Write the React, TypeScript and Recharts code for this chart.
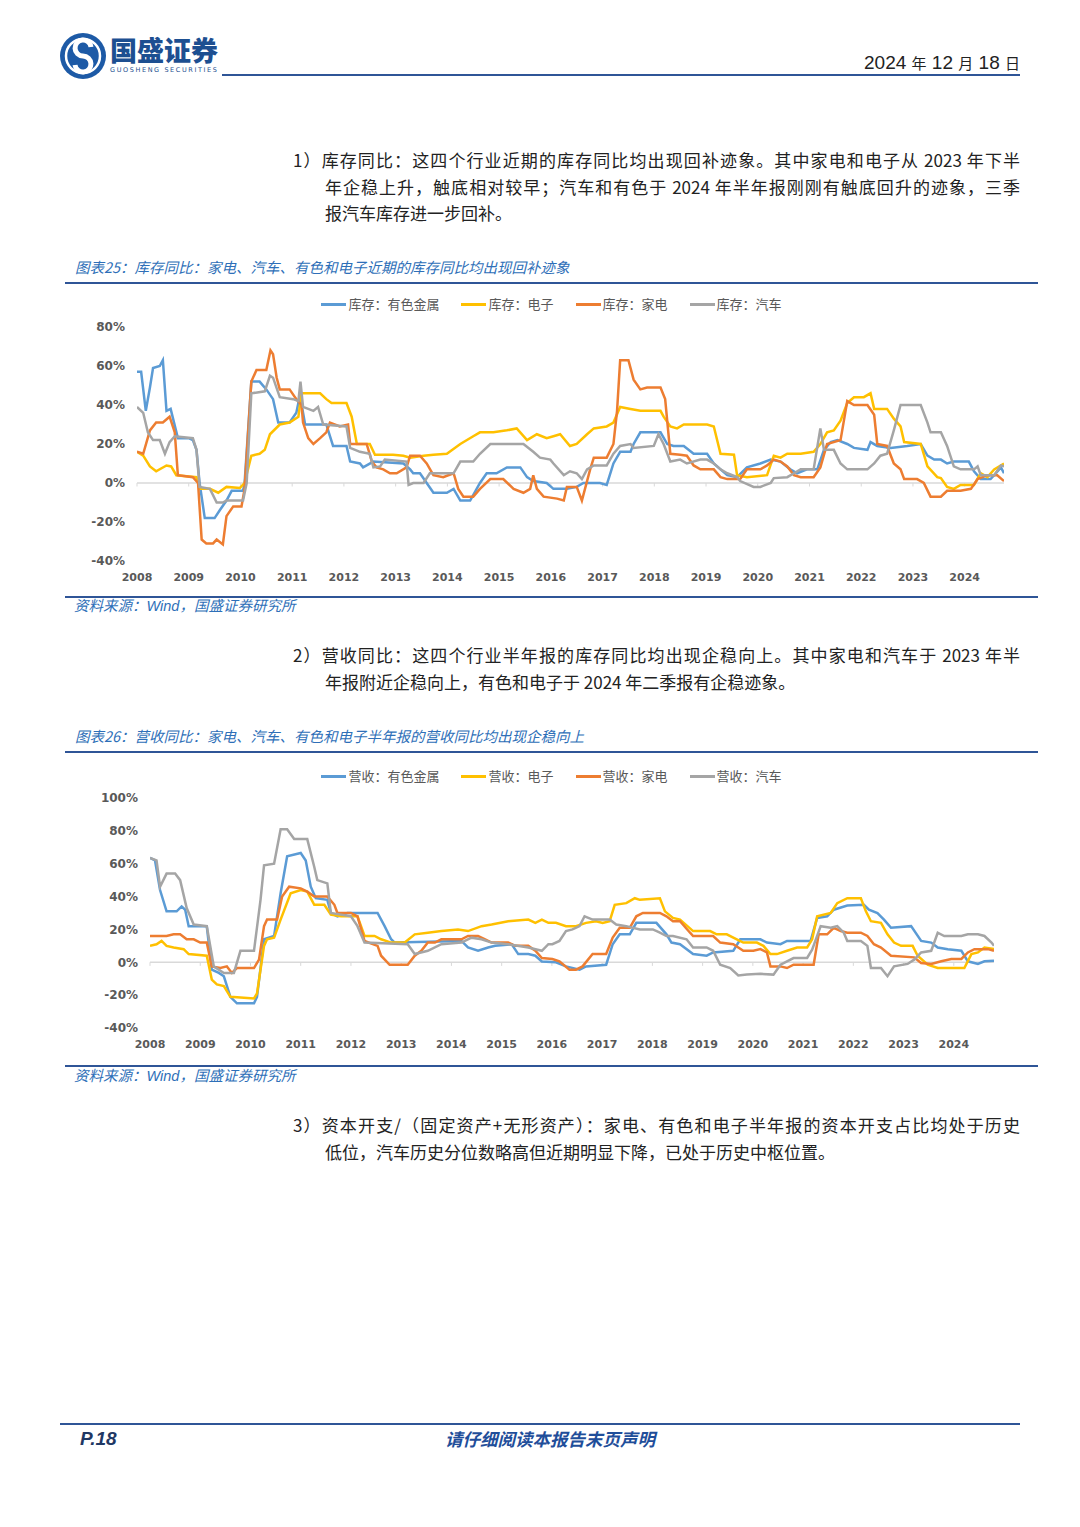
import React from "react"
import { LineChart, Line, XAxis, YAxis, ReferenceLine } from "recharts"

// 年份刻度
const years = [2008, 2009, 2010, 2011, 2012, 2013, 2014, 2015, 2016, 2017, 2018, 2019, 2020, 2021, 2022, 2023, 2024]

// 图表25 库存同比（%），[时间(年), 同比]
const invMetal: [number, number][] = [
  [2008.0, 57], [2008.08, 57], [2008.17, 37], [2008.25, 49], [2008.31, 59], [2008.44, 60], [2008.5, 63],
  [2008.57, 37], [2008.65, 38], [2008.79, 23], [2009.0, 23], [2009.08, 22], [2009.15, 17], [2009.21, 0],
  [2009.31, -18], [2009.5, -18], [2009.6, -14], [2009.73, -9], [2009.83, -4], [2010.05, -4], [2010.08, 0],
  [2010.21, 52], [2010.37, 52], [2010.5, 48], [2010.63, 43], [2010.73, 31], [2010.95, 31], [2011.08, 36],
  [2011.15, 45], [2011.25, 30], [2011.66, 30], [2011.73, 24], [2011.79, 19], [2012.05, 19], [2012.12, 11],
  [2012.31, 10], [2012.37, 8], [2012.57, 11], [2013.15, 10], [2013.28, 7], [2013.34, 5], [2013.47, 5],
  [2013.6, 0], [2013.73, -5], [2013.99, -5], [2014.12, -3], [2014.25, -9], [2014.44, -9], [2014.63, 0],
  [2014.76, 5], [2014.95, 5], [2015.15, 8], [2015.41, 8], [2015.54, 3], [2015.66, 1], [2015.92, 0],
  [2016.05, -3], [2016.31, -3], [2016.5, -2], [2016.63, 0], [2016.95, 0], [2017.08, -1], [2017.21, 10],
  [2017.34, 16], [2017.54, 16], [2017.6, 20], [2017.73, 26], [2018.12, 26], [2018.25, 20], [2018.37, 19],
  [2018.57, 19], [2018.76, 15], [2019.02, 15], [2019.15, 10], [2019.28, 7], [2019.41, 4], [2019.6, 3],
  [2019.79, 8], [2020.05, 10], [2020.25, 12], [2020.44, 11], [2020.63, 7], [2020.76, 5], [2020.95, 7],
  [2021.15, 7], [2021.28, 17], [2021.41, 21], [2021.54, 22], [2021.73, 20], [2021.86, 18], [2022.12, 17],
  [2022.18, 21], [2022.31, 19], [2022.57, 18], [2022.89, 19], [2023.15, 20], [2023.28, 14], [2023.41, 12],
  [2023.54, 12], [2023.66, 10], [2023.79, 11], [2024.08, 11], [2024.18, 6], [2024.31, 2], [2024.5, 2],
  [2024.57, 4], [2024.7, 8], [2024.76, 5],
]
const invElec: [number, number][] = [
  [2008.0, 16], [2008.12, 14], [2008.25, 8.5], [2008.37, 6], [2008.57, 9], [2008.66, 8.5], [2008.76, 4],
  [2009.15, 3], [2009.21, -3], [2009.41, -3], [2009.57, -5], [2009.73, -2], [2009.99, -2.5], [2010.08, 0],
  [2010.21, 14], [2010.37, 15], [2010.47, 17], [2010.57, 25], [2010.76, 30], [2010.95, 31], [2011.12, 34],
  [2011.18, 46], [2011.54, 46], [2011.66, 43], [2011.76, 41], [2012.05, 41], [2012.15, 34], [2012.25, 20],
  [2012.5, 20], [2012.6, 14.5], [2012.95, 14.5], [2013.15, 14], [2013.28, 13], [2013.54, 14], [2013.73, 14.5],
  [2013.99, 15], [2014.25, 20], [2014.5, 24], [2014.63, 26], [2014.89, 26], [2015.15, 27], [2015.34, 28],
  [2015.54, 22], [2015.73, 25], [2015.92, 23], [2016.05, 24], [2016.18, 25], [2016.37, 19], [2016.5, 20],
  [2016.7, 25], [2016.83, 28], [2017.08, 29], [2017.21, 31], [2017.34, 39], [2017.54, 38], [2017.73, 37],
  [2018.12, 37], [2018.18, 34], [2018.31, 29], [2018.44, 28], [2018.57, 30], [2019.02, 30], [2019.15, 29],
  [2019.28, 15], [2019.54, 14.5], [2019.6, 4], [2019.79, 3], [2020.18, 4], [2020.31, 14], [2020.44, 13],
  [2020.57, 15], [2020.83, 15], [2021.08, 16], [2021.21, 20], [2021.34, 26], [2021.47, 27], [2021.6, 32],
  [2021.73, 41], [2021.86, 44], [2022.05, 44], [2022.18, 46], [2022.25, 38], [2022.5, 38], [2022.63, 33],
  [2022.76, 29], [2022.83, 21], [2023.15, 20], [2023.28, 8.5], [2023.47, 3], [2023.54, 2.5], [2023.66, -2],
  [2023.79, -3], [2023.92, -1], [2024.18, -1], [2024.31, 5], [2024.44, 3], [2024.57, 7], [2024.76, 10],
]
const invAppl: [number, number][] = [
  [2008.0, 16], [2008.12, 15], [2008.25, 27], [2008.37, 31], [2008.5, 31], [2008.63, 34], [2008.73, 26],
  [2008.79, 4], [2009.08, 3], [2009.18, 0], [2009.25, -29], [2009.34, -31], [2009.47, -31], [2009.54, -29],
  [2009.66, -31.5], [2009.73, -17], [2009.86, -12], [2010.02, -12], [2010.08, -3], [2010.21, 52], [2010.31, 58],
  [2010.5, 58], [2010.58, 68], [2010.63, 66], [2010.7, 54], [2010.76, 48], [2010.95, 48], [2011.08, 43],
  [2011.18, 40], [2011.21, 31], [2011.31, 23], [2011.41, 20], [2011.54, 23], [2011.66, 26], [2011.73, 31],
  [2011.92, 29], [2012.08, 30], [2012.12, 20], [2012.44, 20], [2012.54, 11], [2012.63, 8], [2012.76, 7],
  [2012.89, 5], [2013.02, 5], [2013.21, 8], [2013.28, 14], [2013.47, 14], [2013.6, 10], [2013.73, 4],
  [2013.92, 3], [2014.12, 5], [2014.21, -3], [2014.31, -7], [2014.5, -7], [2014.63, -3], [2014.83, 2],
  [2015.08, 2], [2015.28, -3], [2015.47, -5], [2015.6, -3], [2015.66, 4], [2015.73, -3], [2015.86, -7],
  [2016.12, -8], [2016.25, -9], [2016.31, -2], [2016.5, -2], [2016.6, -9], [2016.76, 7], [2016.83, 13],
  [2017.08, 13], [2017.21, 20], [2017.28, 37], [2017.34, 63], [2017.5, 63], [2017.6, 53], [2017.73, 48],
  [2017.86, 49], [2018.12, 49], [2018.21, 43], [2018.31, 15], [2018.5, 14.5], [2018.63, 14], [2018.76, 9],
  [2018.89, 7], [2019.15, 7], [2019.28, 3], [2019.41, 2], [2019.66, 2], [2019.79, 7], [2020.05, 7],
  [2020.18, 9], [2020.31, 12], [2020.44, 11], [2020.57, 8.5], [2020.7, 4], [2020.83, 3], [2021.08, 3],
  [2021.21, 8], [2021.34, 20], [2021.6, 22], [2021.73, 42], [2021.86, 40], [2022.12, 40], [2022.25, 35],
  [2022.31, 20], [2022.5, 19], [2022.63, 10], [2022.76, 7], [2022.83, 2], [2023.08, 2], [2023.21, 0],
  [2023.34, -7], [2023.54, -7], [2023.66, -4], [2023.92, -4], [2024.12, -3], [2024.25, 2], [2024.44, 4],
  [2024.63, 4], [2024.76, 1],
]
const invAuto: [number, number][] = [
  [2008.0, 39], [2008.12, 36], [2008.21, 26], [2008.31, 22], [2008.44, 22], [2008.54, 15], [2008.63, 21],
  [2008.73, 24], [2009.08, 23], [2009.15, 17], [2009.21, -2], [2009.41, -3], [2009.54, -10], [2009.66, -10],
  [2009.73, -9], [2010.05, -9], [2010.12, 0], [2010.21, 46], [2010.47, 47], [2010.57, 55], [2010.63, 54],
  [2010.76, 44], [2011.02, 43], [2011.12, 42], [2011.16, 52], [2011.21, 39], [2011.41, 37], [2011.5, 39],
  [2011.6, 30], [2012.05, 29], [2012.12, 18], [2012.31, 16], [2012.5, 15], [2012.57, 8], [2012.7, 8.5],
  [2012.79, 12], [2013.21, 11], [2013.25, -1], [2013.34, 0], [2013.54, 0], [2013.66, 5], [2014.12, 5],
  [2014.25, 11], [2014.5, 11], [2014.63, 15], [2014.83, 20], [2015.47, 20], [2015.66, 16], [2015.79, 13],
  [2015.99, 12], [2016.05, 10], [2016.25, 4], [2016.37, 6], [2016.5, 5], [2016.6, 2], [2016.7, 7],
  [2016.83, 9], [2017.08, 9], [2017.21, 15], [2017.34, 19], [2017.54, 20], [2017.6, 18], [2017.99, 19],
  [2018.08, 25], [2018.18, 20], [2018.31, 11], [2018.5, 12], [2018.63, 10], [2018.89, 12], [2019.02, 12],
  [2019.15, 10], [2019.28, 7], [2019.41, 5], [2019.6, 3], [2019.66, 1], [2019.92, -2], [2020.05, -2],
  [2020.25, 0], [2020.31, 2.5], [2020.57, 3], [2020.7, 5], [2020.83, 7], [2021.08, 7], [2021.21, 28],
  [2021.28, 17], [2021.47, 17], [2021.6, 10], [2021.73, 7], [2022.12, 7], [2022.25, 10], [2022.37, 14],
  [2022.5, 15], [2022.63, 27], [2022.76, 40], [2023.15, 40], [2023.28, 31], [2023.34, 26], [2023.54, 26],
  [2023.66, 19], [2023.79, 8.5], [2023.92, 7], [2024.18, 7], [2024.25, 8.5], [2024.31, 4], [2024.57, 4],
  [2024.7, 9], [2024.76, 8.5],
]

// 图表26 营收同比（%），[时间(年), 同比]
const revMetal: [number, number][] = [
  [2008.0, 63.5], [2008.1, 62], [2008.2, 44], [2008.33, 31], [2008.53, 31], [2008.63, 34], [2008.7, 32],
  [2008.77, 22], [2009.13, 22], [2009.23, -4.5], [2009.37, -6.5], [2009.47, -8.5], [2009.6, -21], [2009.73, -25],
  [2010.07, -25], [2010.13, -21], [2010.27, 14], [2010.47, 16], [2010.6, 42], [2010.73, 64.5], [2011.0, 66.5],
  [2011.1, 62], [2011.2, 46], [2011.3, 39], [2011.53, 38], [2011.6, 30], [2011.73, 28], [2011.93, 30],
  [2012.53, 30], [2012.67, 22], [2012.8, 14], [2012.87, 12], [2014.2, 13], [2014.33, 9], [2014.53, 7],
  [2014.73, 9], [2014.87, 10], [2015.2, 11], [2015.33, 5], [2015.53, 5], [2015.67, 4], [2015.8, 0.5],
  [2016.08, 0], [2016.28, -2.5], [2016.55, -4.5], [2016.68, -2.5], [2017.08, -1.5], [2017.21, 11], [2017.35, 17],
  [2017.55, 17], [2017.68, 24], [2018.08, 24], [2018.28, 17], [2018.38, 12], [2018.55, 11], [2018.81, 5],
  [2019.08, 4], [2019.21, 6], [2019.61, 7], [2019.75, 14], [2020.15, 14], [2020.28, 12], [2020.55, 11],
  [2020.68, 13], [2021.15, 13], [2021.28, 27], [2021.48, 28], [2021.61, 32], [2021.88, 34.5], [2022.21, 35],
  [2022.31, 32], [2022.48, 30], [2022.61, 26], [2022.75, 21], [2023.15, 22], [2023.35, 13], [2023.55, 12],
  [2023.68, 9], [2023.88, 8], [2024.15, 7], [2024.28, 0.6], [2024.48, -1], [2024.61, 0.6], [2024.8, 1],
]
const revElec: [number, number][] = [
  [2008.0, 10], [2008.13, 11], [2008.23, 13], [2008.33, 10], [2008.47, 9], [2008.67, 8], [2008.77, 5],
  [2009.13, 4], [2009.23, -10.5], [2009.33, -13.5], [2009.47, -14.5], [2009.6, -21], [2010.07, -22], [2010.13, -19],
  [2010.27, 10], [2010.33, 14], [2010.47, 15], [2010.6, 26], [2010.8, 42], [2011.0, 44], [2011.13, 43],
  [2011.27, 35], [2011.47, 35], [2011.6, 29], [2011.8, 28], [2012.13, 28], [2012.27, 16], [2012.47, 16],
  [2012.6, 14], [2012.8, 12], [2013.07, 12], [2013.27, 17], [2013.53, 18], [2013.8, 19], [2014.13, 20],
  [2014.33, 19], [2014.6, 22], [2014.8, 23], [2015.13, 25], [2015.53, 26], [2015.67, 24], [2015.8, 26],
  [2015.93, 24], [2016.08, 24], [2016.28, 22], [2016.48, 22], [2016.68, 24], [2016.88, 25], [2017.01, 24],
  [2017.15, 25], [2017.25, 35], [2017.48, 36], [2017.65, 39], [2017.75, 38], [2018.15, 39], [2018.25, 31],
  [2018.41, 27], [2018.55, 26], [2018.81, 19], [2019.15, 19], [2019.28, 17], [2019.48, 17], [2019.68, 14],
  [2019.81, 12], [2020.08, 12], [2020.21, 10], [2020.35, 5], [2020.48, 5], [2020.68, 7], [2020.88, 9],
  [2021.08, 9], [2021.18, 14], [2021.28, 28], [2021.55, 30], [2021.68, 36], [2021.88, 39], [2022.15, 39],
  [2022.25, 31], [2022.35, 25], [2022.55, 24], [2022.68, 17], [2022.81, 12], [2022.95, 10], [2023.18, 10],
  [2023.28, 4], [2023.48, -1.5], [2023.68, -3.5], [2024.21, -3.5], [2024.35, 5], [2024.48, 6], [2024.61, 9],
  [2024.8, 8],
]
const revAppl: [number, number][] = [
  [2008.0, 16], [2008.33, 16], [2008.47, 17], [2008.6, 17], [2008.73, 14], [2008.87, 14], [2009.0, 12],
  [2009.13, 12], [2009.23, -2.5], [2009.4, -3.5], [2009.53, -2.5], [2009.63, -6.5], [2009.73, -3.5], [2010.07, -3.5],
  [2010.17, 1.6], [2010.27, 22], [2010.33, 26], [2010.53, 26], [2010.63, 40], [2010.77, 46], [2011.0, 45],
  [2011.13, 43], [2011.27, 40], [2011.53, 40], [2011.67, 35], [2011.73, 30], [2012.0, 30], [2012.13, 28],
  [2012.27, 13], [2012.53, 10], [2012.6, 4], [2012.77, -1.5], [2013.13, -1.5], [2013.27, 4], [2013.4, 7],
  [2013.53, 12], [2013.67, 12], [2013.8, 14], [2014.2, 14], [2014.33, 16], [2014.53, 16], [2014.67, 14],
  [2014.8, 12], [2015.13, 12], [2015.27, 10], [2015.53, 10], [2015.67, 7], [2015.8, 2.6], [2016.01, 2],
  [2016.15, 0.6], [2016.35, -4.5], [2016.48, -4.5], [2016.61, -2.5], [2016.81, 5], [2017.08, 5], [2017.21, 15],
  [2017.35, 21], [2017.55, 21], [2017.68, 28], [2017.81, 30], [2018.15, 30], [2018.28, 28], [2018.41, 25],
  [2018.55, 25], [2018.75, 18], [2018.81, 16], [2019.21, 16], [2019.35, 12], [2019.61, 11], [2019.81, 7],
  [2020.01, 7], [2020.15, 8], [2020.28, 6], [2020.35, -2.5], [2020.55, -2.5], [2020.68, -3.5], [2020.81, -1.5],
  [2021.21, -1.5], [2021.31, 17], [2021.48, 17], [2021.61, 21], [2021.75, 19], [2021.88, 18], [2022.15, 18],
  [2022.28, 16], [2022.41, 11], [2022.55, 9], [2022.75, 4], [2023.21, 3], [2023.35, -0.4], [2023.55, -1],
  [2023.75, 0.6], [2023.95, 2], [2024.15, 2], [2024.28, 6], [2024.41, 8], [2024.68, 8], [2024.8, 7],
]
const revAuto: [number, number][] = [
  [2008.0, 63.5], [2008.13, 62], [2008.2, 46], [2008.33, 54], [2008.5, 54], [2008.6, 50], [2008.73, 33],
  [2008.87, 23], [2009.13, 22], [2009.27, -2.5], [2009.47, -6.5], [2009.67, -6.5], [2009.8, 7], [2010.07, 7],
  [2010.2, 38], [2010.27, 59], [2010.47, 60], [2010.6, 81], [2010.73, 81], [2010.87, 75], [2011.13, 75],
  [2011.27, 58], [2011.33, 50], [2011.53, 48], [2011.6, 30], [2012.0, 28], [2012.13, 22], [2012.27, 12],
  [2013.13, 11], [2013.27, 5], [2013.53, 7], [2013.8, 11], [2014.2, 12], [2014.4, 15], [2014.6, 14],
  [2014.8, 12], [2015.13, 11], [2015.53, 9], [2015.8, 7], [2015.93, 11], [2016.01, 11], [2016.15, 13],
  [2016.28, 19], [2016.41, 20], [2016.55, 22], [2016.65, 28], [2016.81, 26], [2017.15, 26], [2017.28, 23],
  [2017.48, 22], [2017.75, 20], [2018.01, 20], [2018.15, 18], [2018.28, 16], [2018.41, 16], [2018.68, 14],
  [2018.81, 9], [2019.08, 9], [2019.21, 7], [2019.35, -1.5], [2019.55, -3.5], [2019.71, -8], [2019.88, -7.5],
  [2020.15, -7], [2020.41, -7.5], [2020.55, -1.5], [2020.68, 0.6], [2020.81, 2.6], [2021.08, 2.6], [2021.18, 7.7],
  [2021.35, 22], [2021.55, 21], [2021.68, 22], [2021.81, 18], [2021.88, 13], [2022.15, 13], [2022.28, 10],
  [2022.35, -3.5], [2022.55, -3.5], [2022.68, -8.5], [2022.81, -2.5], [2023.08, -1], [2023.21, 1.6], [2023.35, 6],
  [2023.55, 7], [2023.68, 18], [2023.81, 16], [2024.15, 16], [2024.28, 17], [2024.48, 17], [2024.61, 16],
  [2024.75, 12], [2024.8, 10],
]

const invTicks = [-40, -20, 0, 20, 40, 60, 80]
const revTicks = [-40, -20, 0, 20, 40, 60, 80, 100]

const seriesKeys = ["metal", "elec", "appl", "auto"] as const
type Key = (typeof seriesKeys)[number]
const seriesNames: Record<Key, string> = { metal: "有色金属", elec: "电子", appl: "家电", auto: "汽车" }
const COLORS: Record<Key, string> = { metal: "#5b9bd5", elec: "#ffc000", appl: "#ed7d31", auto: "#a5a5a5" }

const toRows = (pts: [number, number][]) => pts.map(([t, v]) => ({ t, v }))

const invSeries: Record<Key, { t: number; v: number }[]> = {
  metal: toRows(invMetal),
  elec: toRows(invElec),
  appl: toRows(invAppl),
  auto: toRows(invAuto),
}
const revSeries: Record<Key, { t: number; v: number }[]> = {
  metal: toRows(revMetal),
  elec: toRows(revElec),
  appl: toRows(revAppl),
  auto: toRows(revAuto),
}

const BLUE_TEXT = "#2e6fb8"
const RULE = "#2f5597"
const CJK = '"Noto Sans CJK SC", "Noto Sans", sans-serif'
const xTickStyle = { fill: "#595959", fontSize: 11, fontWeight: 700, fontFamily: '"DejaVu Sans", sans-serif' }
const yTickStyle = { ...xTickStyle, fontSize: 12 }

function ChartLegend({ prefix, top }: { prefix: string; top: number }) {
  return (
    <div
      style={{
        position: "absolute",
        top,
        left: 0,
        width: 1103,
        display: "flex",
        justifyContent: "center",
        gap: 22,
        fontFamily: CJK,
        fontSize: 13,
        color: "#595959",
        lineHeight: "16px",
      }}
    >
      {seriesKeys.map((k) => (
        <span key={k} style={{ display: "flex", alignItems: "center", gap: 2 }}>
          <span style={{ width: 25, height: 3, background: COLORS[k], display: "inline-block" }} />
          {prefix}：{seriesNames[k]}
        </span>
      ))}
    </div>
  )
}

type ChartProps = {
  series: Record<Key, { t: number; v: number }[]>
  top: number
  ticks: number[]
  xEnd: number
  zeroTick: number
  margin: { top: number; right: number; bottom: number; left: number }
}

function YoyChart({ series, top, ticks, xEnd, zeroTick, margin }: ChartProps) {
  return (
    <div style={{ position: "absolute", left: 0, top }}>
      <LineChart width={1040} height={300} margin={margin}>
        <XAxis
          type="number"
          dataKey="t"
          domain={[2008, xEnd]}
          ticks={years}
          allowDataOverflow
          axisLine={false}
          tickLine={false}
          tickSize={6}
          tickMargin={6}
          height={30}
          tick={xTickStyle}
          interval={0}
        />
        <YAxis
          dataKey="v"
          domain={[ticks[0], ticks[ticks.length - 1]]}
          ticks={ticks}
          width={60}
          axisLine={false}
          tickLine={false}
          tickSize={6}
          tickMargin={6}
          tick={yTickStyle}
          tickFormatter={(v) => `${v}%`}
          interval={0}
        />
        <ReferenceLine y={0} stroke="#d9d9d9" strokeWidth={1.5} />
        {years.map((yr) => (
          <ReferenceLine
            key={yr}
            segment={[
              { x: yr, y: 0 },
              { x: yr, y: zeroTick },
            ]}
            stroke="#d9d9d9"
            strokeWidth={1}
          />
        ))}
        {seriesKeys.map((k) => (
          <Line
            key={k}
            data={series[k]}
            type="linear"
            dataKey="v"
            name={seriesNames[k]}
            stroke={COLORS[k]}
            strokeWidth={2.5}
            dot={false}
            isAnimationActive={false}
          />
        ))}
      </LineChart>
    </div>
  )
}

function Para({ lines, top, first }: { lines: string[]; top: number; first: number }) {
  return (
    <>
      {lines.map((line, i) => {
        const left = i === 0 ? first : 325
        const justify = i < lines.length - 1
        return (
          <div
            key={i}
            style={{
              position: "absolute",
              top: top + i * 26.5 - 13,
              left,
              width: 1020 - left,
              height: 26,
              lineHeight: "26px",
              fontFamily: CJK,
              fontSize: 17,
              color: "#222",
              whiteSpace: "nowrap",
              textAlign: justify ? "justify" : "left",
              textAlignLast: justify ? "justify" : "left",
            }}
          >
            {line}
          </div>
        )
      })}
    </>
  )
}

function FigTitle({ text, top }: { text: string; top: number }) {
  return (
    <div
      style={{
        position: "absolute",
        top: top - 10,
        left: 75,
        fontFamily: CJK,
        fontStyle: "italic",
        fontSize: 14.5,
        lineHeight: "20px",
        color: BLUE_TEXT,
        whiteSpace: "nowrap",
      }}
    >
      {text}
    </div>
  )
}

function Rule({ top, left, width }: { top: number; left: number; width: number }) {
  return <div style={{ position: "absolute", top, left, width, height: 2, background: RULE }} />
}

function Source({ top }: { top: number }) {
  return (
    <div
      style={{
        position: "absolute",
        top: top - 10,
        left: 74,
        fontFamily: CJK,
        fontStyle: "italic",
        fontSize: 14.5,
        lineHeight: "20px",
        color: BLUE_TEXT,
        whiteSpace: "nowrap",
      }}
    >
      资料来源：<span style={{ fontFamily: '"Liberation Sans", sans-serif' }}>Wind</span>，国盛证券研究所
    </div>
  )
}

export default function App() {
  return (
    <div
      style={{
        position: "absolute",
        left: 0,
        top: 0,
        width: 1080,
        height: 1527,
        background: "#fff",
        overflow: "hidden",
        fontFamily: CJK,
      }}
    >
      {/* header */}
      <svg style={{ position: "absolute", left: 58, top: 32 }} width={50} height={50}>
        <circle cx={25} cy={24} r={23} fill="#1d5aa6" />
        <circle cx={25} cy={24} r={17} fill="none" stroke="#fff" strokeWidth={2.5} />
        <path d="M33 15 A8 8 0 1 0 25 24 A8 8 0 1 1 17 33" fill="none" stroke="#fff" strokeWidth={5} />
      </svg>
      <div
        style={{
          position: "absolute",
          left: 110,
          top: 34,
          fontSize: 27,
          fontWeight: 900,
          lineHeight: "32px",
          color: "#1d4f91",
        }}
      >
        国盛证券
      </div>
      <div
        style={{
          position: "absolute",
          left: 110,
          top: 66,
          fontSize: 6.5,
          lineHeight: "8px",
          color: "#1d4f91",
          letterSpacing: 1.6,
          fontFamily: '"DejaVu Sans", sans-serif',
          whiteSpace: "nowrap",
        }}
      >
        GUOSHENG SECURITIES
      </div>
      <div style={{ position: "absolute", left: 222, top: 74, width: 798, height: 2, background: RULE }} />
      <div
        style={{
          position: "absolute",
          right: 60,
          top: 49,
          lineHeight: "26px",
          color: "#222",
          whiteSpace: "nowrap",
        }}
      >
        <span style={{ fontFamily: '"Liberation Sans", sans-serif', fontSize: 19 }}>2024 </span>
        <span style={{ fontSize: 15 }}>年</span>
        <span style={{ fontFamily: '"Liberation Sans", sans-serif', fontSize: 19 }}> 12 </span>
        <span style={{ fontSize: 15 }}>月</span>
        <span style={{ fontFamily: '"Liberation Sans", sans-serif', fontSize: 19 }}> 18 </span>
        <span style={{ fontSize: 15 }}>日</span>
      </div>

      <Para
        top={160}
        first={293}
        lines={[
          "1）库存同比：这四个行业近期的库存同比均出现回补迹象。其中家电和电子从 2023 年下半",
          "年企稳上升，触底相对较早；汽车和有色于 2024 年半年报刚刚有触底回升的迹象，三季",
          "报汽车库存进一步回补。",
        ]}
      />

      <FigTitle top={267} text="图表25：库存同比：家电、汽车、有色和电子近期的库存同比均出现回补迹象" />
      <Rule top={282} left={65} width={973} />
      <ChartLegend prefix="库存" top={296} />
      <YoyChart
        series={invSeries}
        top={300}
        ticks={invTicks}
        xEnd={2024.76}
        zeroTick={-1.8}
        margin={{ top: 27, right: 36, bottom: 9, left: 77 }}
      />
      <Rule top={596} left={65} width={973} />
      <Source top={605} />

      <Para
        top={655}
        first={293}
        lines={[
          "2）营收同比：这四个行业半年报的库存同比均出现企稳向上。其中家电和汽车于 2023 年半",
          "年报附近企稳向上，有色和电子于 2024 年二季报有企稳迹象。",
        ]}
      />

      <FigTitle top={736} text="图表26：营收同比：家电、汽车、有色和电子半年报的营收同比均出现企稳向上" />
      <Rule top={751} left={65} width={973} />
      <ChartLegend prefix="营收" top={768} />
      <YoyChart
        series={revSeries}
        top={780}
        ticks={revTicks}
        xEnd={2024.8}
        zeroTick={-2.2}
        margin={{ top: 18, right: 46, bottom: 22, left: 90 }}
      />
      <Rule top={1065} left={65} width={973} />
      <Source top={1075} />

      <Para
        top={1125}
        first={293}
        lines={[
          "3）资本开支/（固定资产+无形资产）：家电、有色和电子半年报的资本开支占比均处于历史",
          "低位，汽车历史分位数略高但近期明显下降，已处于历史中枢位置。",
        ]}
      />

      {/* footer */}
      <div style={{ position: "absolute", left: 60, top: 1423, width: 960, height: 2, background: RULE }} />
      <div
        style={{
          position: "absolute",
          left: 80,
          top: 1427,
          fontFamily: '"Liberation Sans", sans-serif',
          fontWeight: 700,
          fontStyle: "italic",
          fontSize: 19,
          lineHeight: "24px",
          color: "#1f3864",
        }}
      >
        P.18
      </div>
      <div
        style={{
          position: "absolute",
          left: 0,
          width: 1100,
          textAlign: "center",
          top: 1428,
          fontWeight: 700,
          fontStyle: "italic",
          fontSize: 17.5,
          lineHeight: "22px",
          color: "#1f4e9a",
        }}
      >
        请仔细阅读本报告末页声明
      </div>
    </div>
  )
}
